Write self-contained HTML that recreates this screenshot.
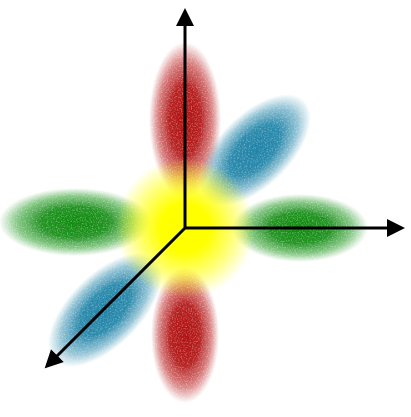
<!DOCTYPE html>
<html><head><meta charset="utf-8"><style>
html,body{margin:0;padding:0;background:#fff;width:411px;height:417px;overflow:hidden}
svg{display:block}
</style></head><body>
<svg id="chart" width="411" height="417" viewBox="0 0 411 417" xmlns="http://www.w3.org/2000/svg">
<defs>
<filter id="speckle" x="-30%" y="-30%" width="160%" height="160%">
<feTurbulence type="fractalNoise" baseFrequency="0.8" numOctaves="1" seed="3" result="n"/>
<feColorMatrix in="n" type="matrix" values="0 0 0 0 0  0 0 0 0 0  0 0 0 0 0  0 0 0 -1.6 1.8" result="m"/>
<feComposite in="SourceGraphic" in2="m" operator="in"/>
</filter>
<marker id="arrow" viewBox="0 0 10 10" refX="5" refY="5" markerWidth="6" markerHeight="6" orient="auto-start-reverse">
<path d="M0,0 L10,5 L0,10 z" fill="#000"/>
</marker>
</defs>
<g id="clusters"></g>
<g id="axes"></g>
</svg>
<script>
// cluster data (data units; origin at axes origin)
const clusterNames = ['red-top','red-bottom','green-left','green-right','blue-upper-right','blue-lower-left','yellow-center'];
const clusterX = [0, 0, -11, 11.5, 7, -8, 0];
const clusterY = [10.8, -10.7, 0.6, 0, 7.8, -8.2, 0];
const clusterSpreadA = [3.6, 3.4, 7.6, 6.8, 7.0, 7.2, 7.0];
const clusterSpreadB = [7.8, 6.8, 3.4, 3.4, 3.6, 3.6, 7.0];
const clusterAngle = [0, 0, 0, 0, -45, -45, 0];
const clusterColor = ['#b00a0a','#b00a0a','#0b8a0b','#0b8a0b','#1a80a5','#1a80a5','#ffff00'];

const ox = 185, oy = 228, unit = 10;
const xScale = v => ox + v * unit;
const yScale = v => oy - v * unit;

const NS = 'http://www.w3.org/2000/svg';
const svg = document.getElementById('chart');
const defs = svg.querySelector('defs');
const g = document.getElementById('clusters');

clusterNames.forEach((name, i) => {
  const gid = 'grad' + i;
  const rg = document.createElementNS(NS, 'radialGradient');
  rg.setAttribute('id', gid);
  const stops = name.startsWith('yellow')
    ? [[0, 1], [0.35, 1], [0.7, 0.5], [1, 0]]
    : [[0, 1], [0.45, 0.92], [0.78, 0.45], [1, 0]];
  stops.forEach(([o, a]) => {
    const s = document.createElementNS(NS, 'stop');
    s.setAttribute('offset', o);
    s.setAttribute('stop-color', clusterColor[i]);
    s.setAttribute('stop-opacity', a);
    rg.appendChild(s);
  });
  defs.appendChild(rg);
  const e = document.createElementNS(NS, 'ellipse');
  
  
  const cx = xScale(clusterX[i]), cy = yScale(clusterY[i]);
  e.setAttribute('cx', cx);
  e.setAttribute('cy', cy);
  e.setAttribute('rx', clusterSpreadA[i] * unit);
  e.setAttribute('ry', clusterSpreadB[i] * unit);
  e.setAttribute('transform', `rotate(${clusterAngle[i]} ${cx} ${cy})`);
  e.setAttribute('fill', `url(#${gid})`);
  if (!name.startsWith('yellow')) e.setAttribute('filter', 'url(#speckle)');
  g.appendChild(e);
});

const axes = document.getElementById('axes');
const axisEnds = [['z-axis', 0, 21.1], ['x-axis', 21.1, 0], ['y-axis', -13.4, -13.4]];
axisEnds.forEach(([n, x, y]) => {
  const l = document.createElementNS(NS, 'line');
  
  
  l.setAttribute('x1', xScale(0)); l.setAttribute('y1', yScale(0));
  l.setAttribute('x2', xScale(x)); l.setAttribute('y2', yScale(y));
  l.setAttribute('stroke', '#000');
  l.setAttribute('stroke-width', '3');
  l.setAttribute('marker-end', 'url(#arrow)');
  axes.appendChild(l);
});
</script>
</body></html>
